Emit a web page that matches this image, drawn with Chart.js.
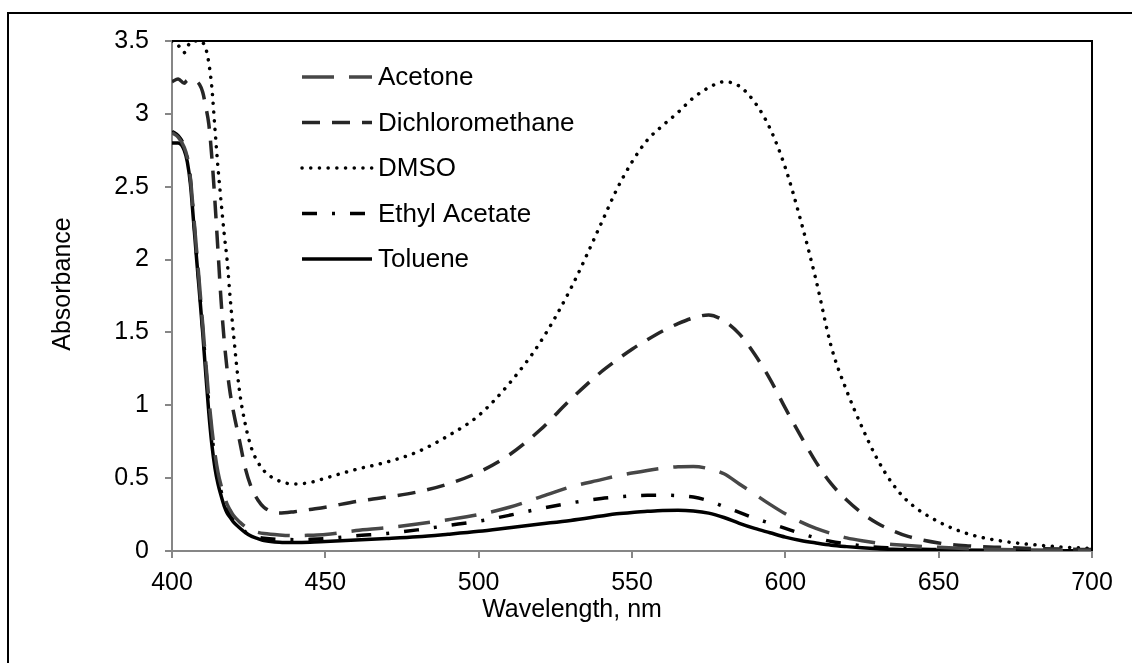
<!DOCTYPE html>
<html>
<head>
<meta charset="utf-8">
<script src="https://cdn.jsdelivr.net/npm/chart.js@4.4.1/dist/chart.umd.min.js"></script>
<style>
  html, body { margin: 0; padding: 0; background: #fff; }
</style>
</head>
<body>
<canvas id="spectra" width="1132" height="663"></canvas>
<script>
// wavelength grid (nm) shared by all the spectra
const wavelengths = [400, 402, 404, 405, 406, 407, 408, 409, 410, 411, 412, 413, 414, 415, 416, 417, 418, 419, 420,
  422, 424, 426, 428, 430, 435, 440, 445, 450, 460, 470, 480, 490, 500, 510, 520, 530, 540, 545, 550, 555,
  560, 565, 570, 575, 580, 585, 590, 595, 600, 605, 610, 615, 620, 625, 630, 635, 640, 650, 660, 670, 680, 690, 700]

const acetone = [2.87, 2.84, 2.77, 2.70, 2.56, 2.32, 2.07, 1.82, 1.56, 1.30, 1.05, 0.84, 0.67, 0.54, 0.45, 0.38, 0.32, 0.28, 0.245,
  0.20, 0.165, 0.14, 0.128, 0.12, 0.11, 0.105, 0.108, 0.113, 0.14, 0.16, 0.185, 0.215, 0.25, 0.30, 0.37, 0.44, 0.49, 0.515, 0.535, 0.553,
  0.568, 0.578, 0.58, 0.565, 0.53, 0.46, 0.39, 0.32, 0.255, 0.20, 0.155, 0.12, 0.09, 0.07, 0.055, 0.045, 0.037, 0.025, 0.016, 0.01, 0.007, 0.005, 0.004]

const dichloromethane = [3.22, 3.24, 3.21, 3.23, 3.23, 3.22, 3.22, 3.20, 3.15, 3.05, 2.93, 2.70, 2.40, 2.06, 1.72, 1.45, 1.24, 1.08, 0.96,
  0.76, 0.56, 0.43, 0.35, 0.30, 0.26, 0.27, 0.285, 0.30, 0.34, 0.37, 0.405, 0.46, 0.54, 0.66, 0.83, 1.04, 1.23, 1.31, 1.385, 1.45,
  1.51, 1.56, 1.60, 1.62, 1.58, 1.49, 1.35, 1.18, 0.98, 0.79, 0.61, 0.46, 0.35, 0.26, 0.19, 0.14, 0.10, 0.055, 0.035, 0.025, 0.018, 0.013, 0.01]

const dmso = [3.50, 3.47, 3.42, 3.46, 3.49, 3.50, 3.50, 3.50, 3.49, 3.45, 3.35, 3.18, 2.90, 2.63, 2.40, 2.18, 1.99, 1.73, 1.50,
  1.10, 0.86, 0.70, 0.61, 0.55, 0.48, 0.46, 0.47, 0.50, 0.56, 0.61, 0.68, 0.79, 0.93, 1.15, 1.43, 1.80, 2.25, 2.48, 2.67, 2.82,
  2.92, 3.01, 3.11, 3.18, 3.22, 3.19, 3.08, 2.90, 2.63, 2.27, 1.86, 1.40, 1.10, 0.85, 0.63, 0.46, 0.34, 0.20, 0.115, 0.07, 0.045, 0.028, 0.018]

const ethylAcetate = [2.88, 2.85, 2.78, 2.70, 2.55, 2.30, 2.04, 1.79, 1.53, 1.27, 1.01, 0.80, 0.63, 0.50, 0.41, 0.34, 0.28, 0.24, 0.21,
  0.165, 0.13, 0.11, 0.095, 0.088, 0.08, 0.078, 0.08, 0.085, 0.105, 0.12, 0.145, 0.175, 0.205, 0.245, 0.29, 0.33, 0.36, 0.37, 0.378, 0.382,
  0.383, 0.38, 0.37, 0.345, 0.305, 0.265, 0.225, 0.19, 0.155, 0.12, 0.09, 0.065, 0.05, 0.035, 0.025, 0.02, 0.015, 0.01, 0.006, 0.004, 0.002, 0.001, 0]

const toluene = [2.80, 2.80, 2.75, 2.67, 2.52, 2.27, 2.01, 1.76, 1.50, 1.22, 0.95, 0.73, 0.57, 0.46, 0.38, 0.31, 0.26, 0.23, 0.20,
  0.16, 0.125, 0.10, 0.085, 0.072, 0.06, 0.058, 0.06, 0.065, 0.075, 0.085, 0.097, 0.115, 0.135, 0.16, 0.185, 0.21, 0.24, 0.255, 0.265, 0.272,
  0.278, 0.28, 0.275, 0.26, 0.23, 0.19, 0.155, 0.125, 0.095, 0.072, 0.055, 0.04, 0.03, 0.022, 0.016, 0.012, 0.009, 0.005, 0.003, 0.002, 0.001, 0.001, 0]

const seriesNames = ["Acetone", "Dichloromethane", "DMSO", "Ethyl Acetate", "Toluene"]
const xTicks = [400, 450, 500, 550, 600, 650, 700]
const yTicks = [0, 0.5, 1, 1.5, 2, 2.5, 3, 3.5]
const xTitle = "Wavelength, nm"
const yTitle = "Absorbance"

const FONT = "'Liberation Sans', Arial, sans-serif"
const TICK_SIZE = 25
const LEGEND_SIZE = 26
const AXIS_GRAY = "#868686"

function toPoints(values){
    return values.map((v, i) => ({x: wavelengths[i], y: v}))
}

function lineSet(label, values, color, dash, cap){
    return {
        label: label,
        data: toPoints(values),
        borderColor: color,
        borderWidth: 3.5,
        borderDash: dash,
        borderCapStyle: cap || 'butt',
        pointRadius: 0,
        fill: false,
        cubicInterpolationMode: 'monotone'
    }
}

// frame: black top/right edge of the plot, plus the outer box lines
const framePlugin = {
    id: 'framePlugin',
    afterDraw(chart){
        const ctx = chart.ctx
        const a = chart.chartArea
        ctx.save()
        ctx.strokeStyle = "#000"
        ctx.lineWidth = 2
        ctx.beginPath()
        ctx.moveTo(a.left, a.top)
        ctx.lineTo(a.right, a.top)
        ctx.lineTo(a.right, a.bottom)
        ctx.stroke()
        ctx.beginPath()
        ctx.moveTo(8, chart.height)
        ctx.lineTo(8, 13)
        ctx.lineTo(chart.width, 13)
        ctx.stroke()

        // axis titles (placed like the original, not centred on the plot)
        ctx.fillStyle = "#000"
        ctx.font = TICK_SIZE + "px " + FONT
        ctx.textAlign = "center"
        ctx.textBaseline = "middle"
        ctx.fillText(xTitle, 572, 610)
        ctx.translate(63, 284)
        ctx.rotate(-Math.PI / 2)
        ctx.fillText(yTitle, 0, 0)
        ctx.restore()
    }
}

// legend drawn inside the plot, top-left
const legendPlugin = {
    id: 'legendPlugin',
    afterDatasetsDraw(chart){
        const ctx = chart.ctx
        const a = chart.chartArea
        const x0 = a.left + 130
        chart.data.datasets.forEach((ds, i) => {
            const y = a.top + 36 + i * 45.5
            ctx.save()
            ctx.strokeStyle = ds.borderColor
            ctx.lineWidth = ds.borderWidth
            ctx.lineCap = ds.borderCapStyle
            ctx.setLineDash(ds.borderDash)
            ctx.beginPath()
            ctx.moveTo(x0, y)
            ctx.lineTo(x0 + 70, y)
            ctx.stroke()
            ctx.setLineDash([])
            ctx.fillStyle = "#000"
            ctx.font = LEGEND_SIZE + "px " + FONT
            ctx.textBaseline = "middle"
            ctx.fillText(ds.label, x0 + 76, y + 1)
            ctx.restore()
        })
    }
}

new Chart(document.getElementById("spectra"), {
    type: 'line',
    data: {
        datasets: [
            lineSet(seriesNames[0], acetone, "#474747", [32, 15]),
            lineSet(seriesNames[1], dichloromethane, "#262626", [18, 12]),
            lineSet(seriesNames[2], dmso, "#000", [0.1, 8.6], 'round'),
            lineSet(seriesNames[3], ethylAcetate, "#000", [15, 15, 3, 15]),
            lineSet(seriesNames[4], toluene, "#000", [])
        ]
    },
    options: {
        responsive: false,
        animation: false,
        layout: {padding: {left: 0, top: 41, right: 40, bottom: 0}},
        plugins: {legend: {display: false}, tooltip: {enabled: false}},
        scales: {
            x: {
                type: 'linear',
                min: 400,
                max: 700,
                afterBuildTicks: (s) => { s.ticks = xTicks.map(v => ({value: v})) },
                afterFit: (s) => { s.height = 112 },
                ticks: {color: "#000", font: {family: FONT, size: TICK_SIZE}, padding: 10, maxRotation: 0},
                grid: {drawOnChartArea: false, drawTicks: true, tickLength: 7, color: AXIS_GRAY, lineWidth: 2},
                border: {color: AXIS_GRAY, width: 2}
            },
            y: {
                min: 0,
                max: 3.5,
                afterBuildTicks: (s) => { s.ticks = yTicks.map(v => ({value: v})) },
                afterFit: (s) => { s.width = 172 },
                ticks: {color: "#000", font: {family: FONT, size: TICK_SIZE}, padding: 16, callback: (v) => String(v)},
                grid: {drawOnChartArea: false, drawTicks: true, tickLength: 7, color: AXIS_GRAY, lineWidth: 2},
                border: {color: AXIS_GRAY, width: 2}
            }
        }
    },
    plugins: [framePlugin, legendPlugin]
})
</script>
</body>
</html>
